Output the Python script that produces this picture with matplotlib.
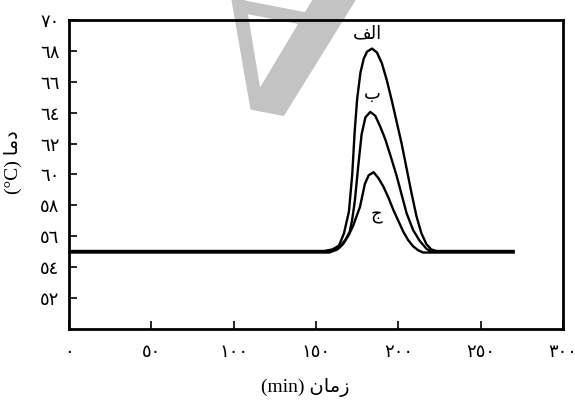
import numpy as np
import matplotlib
matplotlib.use('Agg')
import matplotlib.pyplot as plt
from matplotlib.textpath import TextPath
from matplotlib.patches import PathPatch
from matplotlib.font_manager import FontProperties
from matplotlib.transforms import Affine2D

# Arabic text is written in presentation forms, visual (left to right) order,
# because matplotlib does no Arabic shaping
plt.rcParams['font.family'] = ['Liberation Serif', 'DejaVu Sans']

# curve "alef"
time_a = [0, 155, 160, 164, 167, 170, 172, 173.5, 175, 177, 179, 181, 184, 187,
          190, 193, 196, 199, 202, 205, 208, 211, 214, 217, 220, 223, 270]
temp_a = [55.05, 55.05, 55.15, 55.4, 56.2, 57.6, 60.0, 62.8, 64.9, 66.6, 67.5, 67.95, 68.15, 67.9,
          67.2, 66.1, 64.8, 63.4, 62.0, 60.4, 58.8, 57.3, 56.2, 55.5, 55.15, 55.05, 55.05]

# curve "be"
time_b = [0, 155, 160, 164.5, 168, 170.5, 172, 173.6, 175.6, 177.7, 180, 183, 186,
          189, 192, 195, 199, 202, 205, 209, 213, 217, 220, 270]
temp_b = [55.0, 55.0, 55.05, 55.3, 55.8, 56.3, 57.1, 58.3, 60.5, 62.6, 63.7, 64.05, 63.8,
          63.1, 62.3, 61.3, 59.9, 58.7, 57.5, 56.4, 55.7, 55.2, 55.0, 55.0]

# curve "jim"
time_c = [0, 158, 163, 166.5, 170, 172.6, 176.7, 179.7, 182, 185, 188, 191, 194,
          197, 200, 203, 206, 209, 212, 215, 270]
temp_c = [54.95, 54.95, 55.15, 55.5, 56.1, 56.7, 57.9, 59.4, 59.95, 60.15, 59.75, 59.2, 58.5,
          57.7, 57.0, 56.3, 55.75, 55.35, 55.1, 54.95, 54.95]

curve_labels = ['\ufed2\ufedf\ufe8d', '\ufe8f', '\ufe9d']   # الف ، ب ، ج
label_x = [181.5, 184, 187]
label_y = [69.15, 65.2, 57.4]

xticks = [0, 50, 100, 150, 200, 250, 300]
xtick_labels = ['\u0660', '\u0665\u0660', '\u0661\u0660\u0660', '\u0661\u0665\u0660',
                '\u0662\u0660\u0660', '\u0662\u0665\u0660', '\u0663\u0660\u0660']
yticks = [52, 54, 56, 58, 60, 62, 64, 66, 68, 70]
ytick_labels = ['\u0665\u0662', '\u0665\u0664', '\u0665\u0666', '\u0665\u0668', '\u0666\u0660',
                '\u0666\u0662', '\u0666\u0664', '\u0666\u0666', '\u0666\u0668', '\u0667\u0660']

xlabel = '(min) \ufee5\ufe8e\ufee3\ufeaf'     # زمان (min)
ylabel = '(\u00b0C) \ufe8e\ufee3\ufea9'        # دما (°C)


fig = plt.figure(figsize=(5.75, 4), dpi=100)
ax = fig.add_axes([69/575, 71/400, 494/575, 309/400])
ax.set_facecolor('none')

for t, v in [(time_a, temp_a), (time_b, temp_b), (time_c, temp_c)]:
  ax.plot(t, v, color='black', lw=1.7, solid_joinstyle='round', zorder=2)

for txt, x, y in zip(curve_labels, label_x, label_y):
  ax.text(x, y, txt, ha='center', va='center', fontsize=13, family='DejaVu Sans')

ax.set_xlim(0, 300)
ax.set_ylim(50, 70)
ax.set_xticks(xticks)
ax.set_xticklabels(xtick_labels, family='DejaVu Sans', fontsize=13)
ax.set_yticks(yticks)
ax.set_yticklabels(ytick_labels, family='DejaVu Sans', fontsize=13)
ax.tick_params(direction='in', length=6, width=1.2, top=False, right=False)
ax.tick_params(axis='x', pad=10)
ax.tick_params(axis='y', pad=7)
for s in ax.spines.values():
  s.set_linewidth(2)

ax.set_xlabel(xlabel, fontsize=14)
ax.xaxis.set_label_coords(0.478, -0.16)
ax.set_ylabel(ylabel, fontsize=14)
ax.yaxis.set_label_coords(-0.095, 0.54)

# gray watermark letter, flipped and tilted, behind the frame
path = TextPath((0, 0), 'A', size=1,
                prop=FontProperties(family='Liberation Serif', weight='bold'))
tr = Affine2D().translate(-0.36, -0.674).scale(2.4, -2.4).rotate_deg(-11).translate(2.66, 2.84)
ax.add_patch(PathPatch(path, transform=tr + fig.dpi_scale_trans, facecolor='#c3c3c3',
                       edgecolor='none', clip_on=False, zorder=0.5))

fig.savefig('out.png', dpi=100)
